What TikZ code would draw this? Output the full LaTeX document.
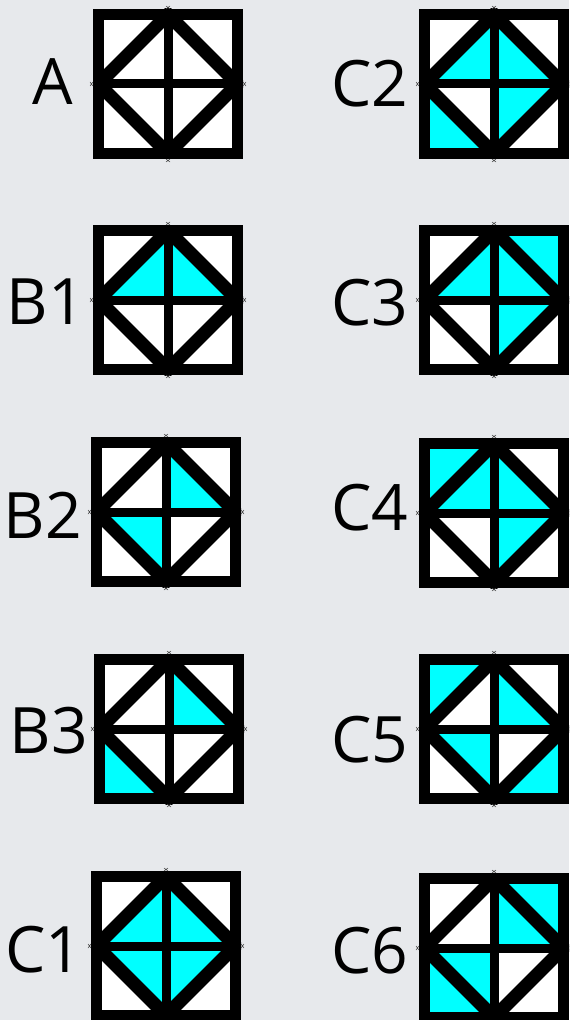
\documentclass[tikz,border=0pt]{standalone}
\usepackage{fontspec}
\setmainfont{Open Sans}
\definecolor{bg}{HTML}{E7E9EC}
\definecolor{tcyan}{HTML}{00FFFF}
\tikzset{
  TLo/.style={insert path={(-69.5,-69.5)--(0,-69.5)--(-69.5,0)--cycle}},
  TLi/.style={insert path={(0,-69.5)--(-69.5,0)--(0,0)--cycle}},
  TRo/.style={insert path={(69.5,-69.5)--(0,-69.5)--(69.5,0)--cycle}},
  TRi/.style={insert path={(0,-69.5)--(69.5,0)--(0,0)--cycle}},
  BLo/.style={insert path={(-69.5,69.5)--(-69.5,0)--(0,69.5)--cycle}},
  BLi/.style={insert path={(-69.5,0)--(0,69.5)--(0,0)--cycle}},
  BRo/.style={insert path={(69.5,69.5)--(69.5,0)--(0,69.5)--cycle}},
  BRi/.style={insert path={(69.5,0)--(0,69.5)--(0,0)--cycle}},
  nofill/.style={},
  frame/.style={line width=8.25pt, line join=miter},
  crossline/.style={line width=6.75pt},
  diagline/.style={line width=10pt},
  tickmark/.style={line width=0.4pt, draw=black!70},
  lbl/.style={font=\fontsize{48}{48}\selectfont, inner sep=0pt, anchor=base},
}
\newcommand\mytile[3]{%
  \begin{scope}[shift={(#2)}]
    \coordinate (#1) at (0,0);
    \fill[white] (-69.5,-69.5) rectangle (69.5,69.5);
    \foreach \t in {#3} {\fill[tcyan,\t];}
    \begin{scope}
      \clip (-75,-75) rectangle (75,75);
      \draw[diagline] (0,-69.5)--(69.5,0)--(0,69.5)--(-69.5,0)--cycle;
    \end{scope}
    \draw[crossline] (0,-69.5)--(0,69.5) (-69.5,0)--(69.5,0);
    \draw[frame] (-69.5,-69.5) rectangle (69.5,69.5);
    \draw[tickmark] (-2,-78)--(2,-75) (2,-78)--(-2,-75)
                    (-2,78)--(2,75) (2,78)--(-2,75)
                    (-78,-2)--(-75,2) (-78,2)--(-75,-2)
                    (78,-2)--(75,2) (78,2)--(75,-2);
  \end{scope}}
\begin{document}
\begin{tikzpicture}[x=0.75pt,y=-0.75pt]
  \useasboundingbox (0,0) rectangle (569,1020);
  \fill[bg] (0,0) rectangle (569,1020);
  \begin{scope}
    \clip (0,0) rectangle (569,1020);
    \mytile{tA}{168,84}{nofill}
    \mytile{tC2}{494,84}{TLi,TRi,BRi,BLo}
    \mytile{tB1}{168,300}{TLi,TRi}
    \mytile{tC3}{494,300}{TLi,TRi,TRo,BRi}
    \mytile{tB2}{166,512}{TRi,BLi}
    \mytile{tC4}{494,513}{TLo,TLi,TRi,BRi}
    \mytile{tB3}{169,729}{TRi,BLo}
    \mytile{tC5}{494,729}{TLo,TRi,BLi,BRo}
    \mytile{tC1}{166,946}{TLi,TRi,BLi,BRi}
    \mytile{tC6}{494,948}{TRi,TRo,BLi,BLo}
  \end{scope}
  \node[lbl] (lA) at (52.5,105) {A};
  \node[lbl] (lC2) at (370,107) {C2};
  \node[lbl] (lB1) at (46,324) {B1};
  \node[lbl] (lC3) at (370,325) {C3};
  \node[lbl] (lB2) at (43,538) {B2};
  \node[lbl] (lC4) at (370,530) {C4};
  \node[lbl] (lB3) at (49,753) {B3};
  \node[lbl] (lC5) at (370,762) {C5};
  \node[lbl] (lC1) at (44,972) {C1};
  \node[lbl] (lC6) at (370,973) {C6};
\end{tikzpicture}
\end{document}
